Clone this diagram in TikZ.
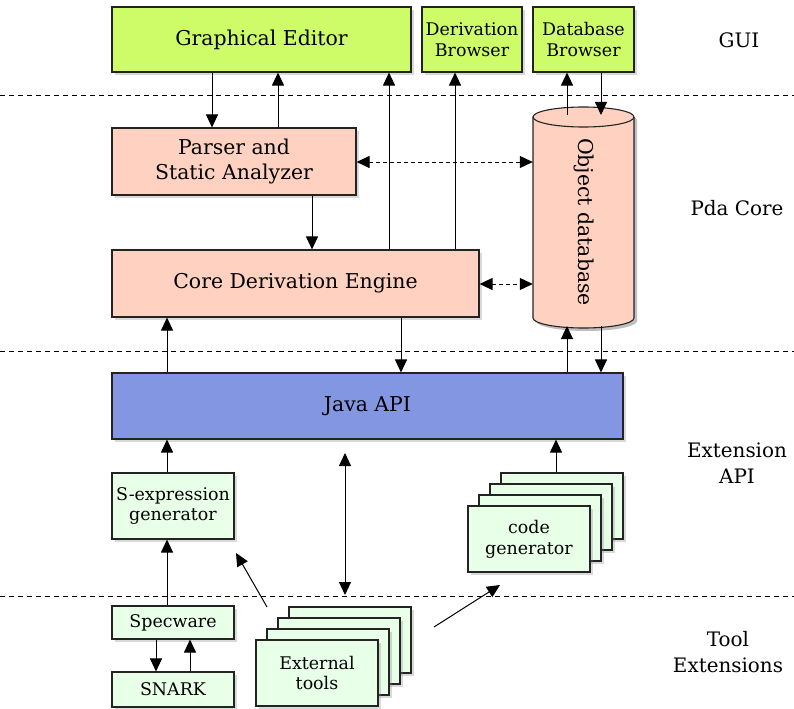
\documentclass[tikz,border=0pt]{standalone}
\usepackage{fontspec}
\setmainfont{DejaVu Serif}
\usetikzlibrary{arrows.meta,shadows}
\definecolor{guigreen}{RGB}{206,252,104}
\definecolor{corepink}{RGB}{255,209,192}
\definecolor{apiblue}{RGB}{130,150,226}
\definecolor{extgreen}{RGB}{232,255,232}
\definecolor{edgec}{RGB}{35,35,35}
\begin{document}
\begin{tikzpicture}[x=1bp,y=1bp,
 box/.style={draw=edgec, line width=1.1bp, inner sep=0pt, align=center,
   drop shadow={shadow xshift=3bp,shadow yshift=-3bp,opacity=0.3}},
 gui/.style={box, fill=guigreen},
 core/.style={box, fill=corepink},
 api/.style={box, fill=apiblue},
 ext/.style={box, fill=extgreen},
 big/.style={font=\fontsize{20.5}{25}\selectfont},
 small/.style={font=\fontsize{17.5}{21}\selectfont},
 tip/.style={Triangle[length=13bp,width=12bp]},
 arr/.style={line width=1bp, -{Triangle[length=13bp,width=12bp]}},
 darr/.style={line width=1bp, dash pattern=on 4bp off 3bp, {Triangle[length=13bp,width=12bp]}-{Triangle[length=13bp,width=12bp]}},
 barr/.style={line width=1bp, {Triangle[length=13bp,width=12bp]}-{Triangle[length=13bp,width=12bp]}},
 layer/.style={line width=0.7bp, dash pattern=on 5bp off 4bp},
 lbl/.style={font=\fontsize{20}{26}\selectfont, align=center}
]
\useasboundingbox (0,0) rectangle (794,-709);

% layer separators
\coordinate (l1a) at (0,-95);  \coordinate (l1b) at (794,-95);
\coordinate (l2a) at (0,-351); \coordinate (l2b) at (794,-351);
\coordinate (l3a) at (0,-596); \coordinate (l3b) at (794,-596);
\draw[layer] (l1a) -- (l1b);
\draw[layer] (l2a) -- (l2b);
\draw[layer] (l3a) -- (l3b);

% layer labels
\node[lbl] (lgui) at (739,-40) {GUI};
\node[lbl] (lcore) at (737,-208) {Pda Core};
\node[lbl] (lapi) at (737,-463) {Extension\\API};
\node[lbl] (ltool) at (728,-652) {Tool\\Extensions};

% GUI
\node[gui, big, minimum width=299bp, minimum height=65bp] (ge) at (261.5,-39.5) {Graphical Editor};
\node[gui, small, minimum width=100bp, minimum height=65bp] (dbr) at (472,-39.5) {Derivation\\Browser};
\node[gui, small, minimum width=101bp, minimum height=65bp] (dabr) at (583.5,-39.5) {Database\\Browser};

% core
\node[core, big, minimum width=244bp, minimum height=67bp] (parser) at (234,-161.5) {Parser and\\Static Analyzer};
\node[core, big, minimum width=367bp, minimum height=67bp] (cde) at (295.5,-283.5) {Core Derivation Engine};

% cylinder
\fill[black, opacity=0.25] (536,-120) -- (536,-321) arc[start angle=180,end angle=360,x radius=50.5,y radius=10] -- (637,-120) arc[start angle=0,end angle=180,x radius=50.5,y radius=10] -- cycle;
\draw[fill=corepink, draw=edgec, line width=1.1bp] (533,-117) -- (533,-318) arc[start angle=180,end angle=360,x radius=50.5,y radius=10] -- (634,-117) arc[start angle=0,end angle=180,x radius=50.5,y radius=10] -- cycle;
\draw[draw=edgec, line width=1.1bp] (533,-117) arc[start angle=180,end angle=360,x radius=50.5,y radius=10];
\node[minimum width=101bp, minimum height=221bp, inner sep=0pt] (db) at (583.5,-217.5) {};
\node[big, rotate=-90] (dbtext) at (583.5,-222) {Object database};
\coordinate (dbtop) at (583.5,-115);
\coordinate (dbbot) at (583.5,-326);

% API
\node[api, big, minimum width=511bp, minimum height=66bp] (java) at (367.5,-406) {Java API};

% extension
\node[ext, small, minimum width=122bp, minimum height=66bp] (sexp) at (173,-506) {S-expression\\generator};
\node[ext, minimum width=122bp, minimum height=66bp] (cg4) at (562,-506) {};
\node[ext, minimum width=122bp, minimum height=66bp] (cg3) at (551,-517) {};
\node[ext, minimum width=122bp, minimum height=66bp] (cg2) at (540,-528) {};
\node[ext, small, minimum width=122bp, minimum height=66bp] (cg) at (529,-539) {code\\generator};

% tools
\node[ext, small, minimum width=122bp, minimum height=33bp] (spec) at (173,-622.5) {Specware};
\node[ext, small, minimum width=122bp, minimum height=35bp] (snark) at (173,-689.5) {SNARK};
\node[ext, minimum width=122bp, minimum height=66bp] (et4) at (350,-640) {};
\node[ext, minimum width=122bp, minimum height=66bp] (et3) at (339,-651) {};
\node[ext, minimum width=122bp, minimum height=66bp] (et2) at (328,-662) {};
\node[ext, small, minimum width=122bp, minimum height=66bp] (et) at (317,-673) {External\\tools};

% connectors GUI <-> core
\draw[arr] (ge.south -| 212,0) -- (parser.north -| 212,0);
\draw[arr] (parser.north -| 278,0) -- (ge.south -| 278,0);
\draw[arr] (cde.north -| 389,0) -- (ge.south -| 389,0);
\draw[arr] (cde.north -| 455,0) -- (dbr.south -| 455,0);
\draw[arr] (dbtop -| 567,0) -- (dabr.south -| 567,0);
\draw[arr] (dabr.south -| 601,0) -- (dbtop -| 601,0);

% core
\draw[arr] (parser.south -| 312,0) -- (cde.north -| 312,0);
\draw[darr] (parser.east |- 0,-162) -- (db.west |- 0,-162);
\draw[darr] (cde.east |- 0,-284) -- (db.west |- 0,-284);

% core <-> api
\draw[arr] (java.north -| 167,0) -- (cde.south -| 167,0);
\draw[arr] (cde.south -| 401,0) -- (java.north -| 401,0);
\draw[arr] (java.north -| 567,0) -- (dbbot -| 567,0);
\draw[arr] (dbbot -| 601,0) -- (java.north -| 601,0);

% api <-> extensions
\draw[arr] (sexp.north -| 167,0) -- (java.south -| 167,0);
\draw[arr] (cg4.north -| 556,0) -- (java.south -| 556,0);
\coordinate (vt) at (345,-453);
\coordinate (vb) at (345,-595);
\draw[barr] (vt) -- (vb);

% tools
\draw[arr] (spec.north -| 167,0) -- (sexp.south -| 167,0);
\draw[arr] (spec.south -| 156,0) -- (snark.north -| 156,0);
\draw[arr] (snark.north -| 190,0) -- (spec.south -| 190,0);
\coordinate (d1a) at (267,-607);
\coordinate (d1b) at (236,-553);
\draw[arr] (d1a) -- (d1b);
\coordinate (d2a) at (434,-627);
\coordinate (d2b) at (500,-585);
\draw[arr] (d2a) -- (d2b);
\end{tikzpicture}
\end{document}
